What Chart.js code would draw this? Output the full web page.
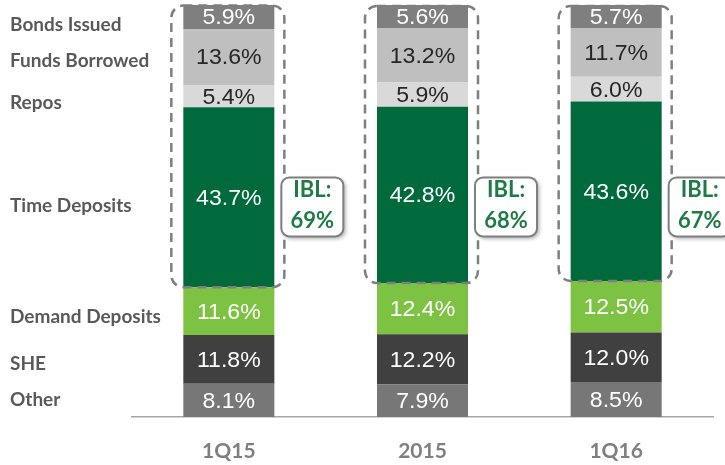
<!DOCTYPE html>
<html>
<head>
<meta charset="utf-8">
<script src="https://cdn.jsdelivr.net/npm/chart.js@4.4.1/dist/chart.umd.min.js"></script>
<style>
  html, body { margin: 0; padding: 0; background: #fff; }
  #wrap { width: 725px; height: 465px; position: relative; }
</style>
</head>
<body>
<div id="wrap"><canvas id="c"></canvas></div>
<script>
// categories and series (stack bottom to top)
const periods = ['1Q15', '2015', '1Q16'];
const other = [8.1, 7.9, 8.5];
const she = [11.8, 12.2, 12.0];
const demandDeposits = [11.6, 12.4, 12.5];
const timeDeposits = [43.7, 42.8, 43.6];
const repos = [5.4, 5.9, 6.0];
const fundsBorrowed = [13.6, 13.2, 11.7];
const bondsIssued = [5.9, 5.6, 5.7];
const iblShare = [69, 68, 67];

// left side labels and where they sit on the % scale
const sideLabels = ['Bonds Issued', 'Funds Borrowed', 'Repos', 'Time Deposits', 'Demand Deposits', 'SHE', 'Other'];
const sideLabelPos = [95.2, 86.4, 76.2, 51.2, 24.4, 13.0, 4.1];

const series = [
    { label: 'Other', data: other, color: '#777777', text: '#ffffff' },
    { label: 'SHE', data: she, color: '#404040', text: '#ffffff' },
    { label: 'Demand Deposits', data: demandDeposits, color: '#7dc242', text: '#ffffff' },
    { label: 'Time Deposits', data: timeDeposits, color: '#006a3d', text: '#ffffff' },
    { label: 'Repos', data: repos, color: '#d9d9d9', text: '#262626' },
    { label: 'Funds Borrowed', data: fundsBorrowed, color: '#bfbfbf', text: '#262626' },
    { label: 'Bonds Issued', data: bondsIssued, color: '#7f7f7f', text: '#ffffff' }
];

function roundRect(ctx, x, y, w, h, r) {
    ctx.beginPath();
    ctx.moveTo(x + r, y);
    ctx.lineTo(x + w - r, y);
    ctx.arcTo(x + w, y, x + w, y + r, r);
    ctx.lineTo(x + w, y + h - r);
    ctx.arcTo(x + w, y + h, x + w - r, y + h, r);
    ctx.lineTo(x + r, y + h);
    ctx.arcTo(x, y + h, x, y + h - r, r);
    ctx.lineTo(x, y + r);
    ctx.arcTo(x, y, x + r, y, r);
    ctx.closePath();
}

// segment value labels, dashed IBL boxes, callouts, left labels
const overlay = {
    id: 'overlay',
    afterDatasetsDraw(chart) {
        const ctx = chart.ctx;
        const yScale = chart.scales.y;

        // values inside segments
        chart.data.datasets.forEach((ds, di) => {
            const meta = chart.getDatasetMeta(di);
            meta.data.forEach((el, i) => {
                const cy = (el.y + el.base) / 2 + 1.5;
                ctx.save();
                ctx.translate(el.x, cy);
                ctx.scale(1.05, 1);
                ctx.font = '22px "Liberation Sans", Arial, sans-serif';
                ctx.fillStyle = series[di].text;
                ctx.textAlign = 'center';
                ctx.textBaseline = 'middle';
                ctx.fillText(ds.data[i].toFixed(1) + '%', 0, 0);
                ctx.restore();
            });
        });

        // dashed boxes around the interest bearing liabilities
        const timeMeta = chart.getDatasetMeta(3);
        const topMeta = chart.getDatasetMeta(6);
        timeMeta.data.forEach((el, i) => {
            const half = el.width / 2;
            const left = el.x - half - 12;
            const right = el.x + half + 10;
            const top = topMeta.data[i].y + 1;
            const bottom = el.base;
            ctx.save();
            ctx.strokeStyle = '#7f7f7f';
            ctx.lineWidth = 2.5;
            ctx.setLineDash([9, 6]);
            roundRect(ctx, left, top, right - left, bottom - top, 12);
            ctx.stroke();
            ctx.restore();

            // IBL callout
            const bx = el.x + half + 7;
            const bw = 62, bh = 59;
            const by = yScale.getPixelForValue(51) - bh / 2;
            ctx.save();
            ctx.shadowColor = 'rgba(0,0,0,0.35)';
            ctx.shadowBlur = 4;
            ctx.shadowOffsetX = 2;
            ctx.shadowOffsetY = 2;
            roundRect(ctx, bx, by, bw, bh, 8);
            ctx.fillStyle = '#ffffff';
            ctx.fill();
            ctx.restore();
            ctx.save();
            roundRect(ctx, bx, by, bw, bh, 8);
            ctx.strokeStyle = '#7f7f7f';
            ctx.lineWidth = 2;
            ctx.stroke();
            ctx.font = 'bold 22px Lato, "Open Sans", sans-serif';
            ctx.fillStyle = '#1e7b46';
            ctx.textAlign = 'center';
            ctx.textBaseline = 'middle';
            ctx.fillText('IBL:', bx + bw / 2, by + 13);
            ctx.fillText(iblShare[i] + '%', bx + bw / 2, by + 44);
            ctx.restore();
        });

        // category names on the left
        ctx.save();
        ctx.font = 'bold 19px Lato, "Open Sans", sans-serif';
        ctx.fillStyle = '#595959';
        ctx.textAlign = 'left';
        ctx.textBaseline = 'middle';
        sideLabels.forEach((t, i) => {
            ctx.fillText(t, 10, yScale.getPixelForValue(sideLabelPos[i]));
        });
        ctx.restore();
    }
};

new Chart(document.getElementById('c'), {
    type: 'bar',
    data: {
        labels: periods,
        datasets: series.map(s => ({
            label: s.label,
            data: s.data,
            backgroundColor: s.color,
            borderWidth: 0,
            categoryPercentage: 1,
            barPercentage: 0.47
        }))
    },
    options: {
        responsive: true,
        maintainAspectRatio: false,
        animation: false,
        layout: { padding: { left: 132, right: 12, top: 5, bottom: 0 } },
        plugins: {
            legend: { display: false },
            tooltip: { enabled: false }
        },
        scales: {
            x: {
                stacked: true,
                grid: { display: false, drawTicks: false },
                border: { display: true, color: '#a6a6a6', width: 1.5 },
                ticks: {
                    padding: 22,
                    color: '#7f7f7f',
                    font: { family: 'Lato, "Open Sans", sans-serif', size: 21, weight: 'bold' }
                },
                afterFit: (s) => { s.height = 48; }
            },
            y: {
                stacked: true,
                display: false,
                min: 0,
                max: 100
            }
        }
    },
    plugins: [overlay]
});
</script>
</body>
</html>
